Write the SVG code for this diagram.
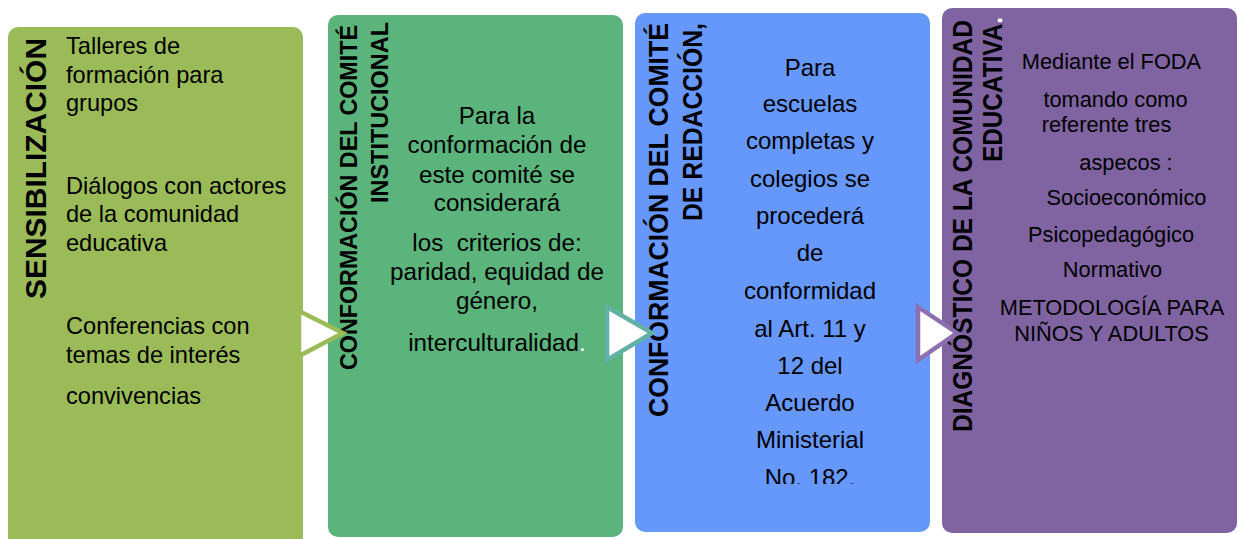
<svg xmlns="http://www.w3.org/2000/svg" width="1238" height="539" viewBox="0 0 1238 539">
  <style>
    .title { font-family: "Liberation Sans", Arial, sans-serif; font-weight: bold; fill: #000; }
    .body { font-family: "Liberation Sans", Arial, sans-serif; fill: #000; white-space: pre; }
    .b1 { font-size: 23.6px; }
    .b2 { font-size: 24.2px; text-anchor: middle; }
    .b3 { font-size: 24px; text-anchor: middle; }
    .b4 { font-size: 21.8px; text-anchor: middle; }
    .arrow { fill: #ffffff; stroke-width: 4.5; stroke-linejoin: miter; }
  </style>
  <defs>
    <clipPath id="clip3">
      <rect x="630" y="0" width="310" height="484"/>
    </clipPath>
  </defs>
  <rect x="0" y="0" width="1238" height="539" fill="#ffffff"/>

  <g id="node-sensibilizacion">
    <path d="M8,37 a10,10 0 0 1 10,-10 H293 a10,10 0 0 1 10,10 V545 H8 Z" fill="#9BBB59"/>
    <text class="title" font-size="29" transform="translate(46,299) rotate(-90)" textLength="261" lengthAdjust="spacingAndGlyphs">SENSIBILIZACIÓN</text>
    <text class="body b1" x="66" y="54">Talleres de</text>
    <text class="body b1" x="66" y="83">formación para</text>
    <text class="body b1" x="66" y="111">grupos</text>
    <text class="body b1" x="66" y="194">Diálogos con actores</text>
    <text class="body b1" x="66" y="222">de la comunidad</text>
    <text class="body b1" x="66" y="251">educativa</text>
    <text class="body b1" x="66" y="334">Conferencias con</text>
    <text class="body b1" x="66" y="363">temas de interés</text>
    <text class="body b1" x="66" y="404">convivencias</text>
  </g>

  <g id="node-comite-institucional">
    <rect x="328" y="15" width="295" height="522" rx="10" ry="10" fill="#5BB47C"/>
    <text class="title" font-size="24" transform="translate(357,370) rotate(-90)" textLength="345" lengthAdjust="spacingAndGlyphs">CONFORMACIÓN DEL COMITÉ</text>
    <text class="title" font-size="24" transform="translate(388,203) rotate(-90)" textLength="181" lengthAdjust="spacingAndGlyphs">INSTITUCIONAL</text>
    <text class="body b2" x="497" y="124">Para la</text>
    <text class="body b2" x="497" y="153">conformación de</text>
    <text class="body b2" x="497" y="183">este comité se</text>
    <text class="body b2" x="497" y="211">considerará</text>
    <text class="body b2" x="497" y="251">los  criterios de:</text>
    <text class="body b2" x="497" y="280">paridad, equidad de</text>
    <text class="body b2" x="497" y="309">género,</text>
    <text class="body b2" x="497" y="351">interculturalidad<tspan fill="#ffffff">.</tspan></text>
  </g>

  <g id="node-comite-redaccion">
    <rect x="635" y="13" width="295" height="519" rx="10" ry="10" fill="#6697FB"/>
    <text class="title" font-size="27" transform="translate(668,417) rotate(-90)" textLength="394" lengthAdjust="spacingAndGlyphs">CONFORMACIÓN DEL COMITÉ</text>
    <text class="title" font-size="27" transform="translate(702,221) rotate(-90)" textLength="198" lengthAdjust="spacingAndGlyphs">DE REDACCIÓN,</text>
    <text class="body b3" x="810" y="76">Para</text>
    <text class="body b3" x="810" y="112">escuelas</text>
    <text class="body b3" x="810" y="149">completas y</text>
    <text class="body b3" x="810" y="187">colegios se</text>
    <text class="body b3" x="810" y="224">procederá</text>
    <text class="body b3" x="810" y="261">de</text>
    <text class="body b3" x="810" y="299">conformidad</text>
    <text class="body b3" x="810" y="337">al Art. 11 y</text>
    <text class="body b3" x="810" y="374">12 del</text>
    <text class="body b3" x="810" y="411">Acuerdo</text>
    <text class="body b3" x="810" y="448">Ministerial</text>
    <text class="body b3" x="810" y="486" clip-path="url(#clip3)">No. 182.</text>
  </g>

  <g id="node-diagnostico">
    <rect x="942" y="8" width="295" height="525" rx="10" ry="10" fill="#8064A2"/>
    <text class="title" font-size="27" transform="translate(972,432) rotate(-90)" textLength="412" lengthAdjust="spacingAndGlyphs">DIAGNÓSTICO DE LA COMUNIDAD</text>
    <text class="title" font-size="27" transform="translate(1002,162) rotate(-90)" textLength="145" lengthAdjust="spacingAndGlyphs">EDUCATIVA<tspan fill="#ffffff">.</tspan></text>
    <text class="body b4" x="1111.5" y="69">Mediante el FODA</text>
    <text class="body b4" x="1115.5" y="107">tomando como</text>
    <text class="body b4" x="1106.5" y="132">referente tres</text>
    <text class="body b4" x="1126" y="170">aspecos :</text>
    <text class="body b4" x="1126.5" y="205">Socioeconómico</text>
    <text class="body b4" x="1111" y="242">Psicopedagógico</text>
    <text class="body b4" x="1112.5" y="277">Normativo</text>
    <text class="body b4" x="1112" y="315">METODOLOGÍA PARA</text>
    <text class="body b4" x="1111.5" y="341">NIÑOS Y ADULTOS</text>
  </g>

  <g id="connectors">
    <polygon class="arrow" points="299,311 343,333 299,356" stroke="#9BBB59"/>
    <polygon class="arrow" points="607,307 652,333 607,360" stroke="#62B1A4"/>
    <polygon class="arrow" points="918,307 957,333 918,360" stroke="#8C6FB0"/>
  </g>
</svg>
